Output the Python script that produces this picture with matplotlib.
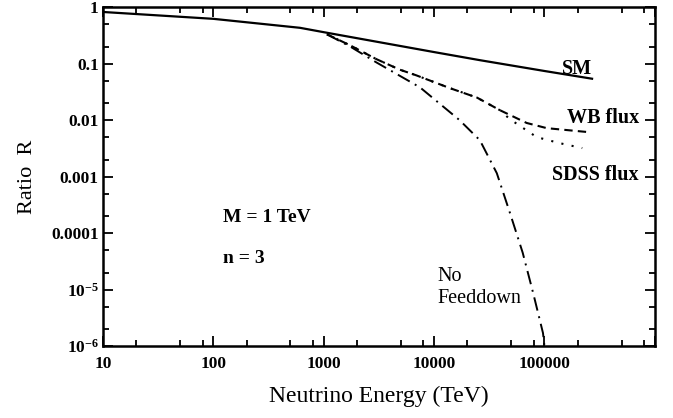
import numpy as np
import matplotlib
matplotlib.use('Agg')
import matplotlib.pyplot as plt
from matplotlib.ticker import LogLocator, FixedFormatter, FixedLocator, NullFormatter

plt.rcParams['font.family'] = 'Liberation Serif'
plt.rcParams['mathtext.fontset'] = 'custom'
plt.rcParams['mathtext.rm'] = 'Liberation Serif:bold'
plt.rcParams['mathtext.it'] = 'Liberation Serif:bold'

# values
sm_E = [10, 100, 610, 1000, 10000, 26000, 100000, 270000]
sm_R = [0.82, 0.62, 0.43, 0.36, 0.16, 0.115, 0.074, 0.054]

wb_E = [1070, 1740, 3000, 4900, 6900, 13800, 24500, 39400, 69000, 105000, 257000]
wb_R = [0.33, 0.21, 0.12, 0.078, 0.062, 0.037, 0.025, 0.015, 0.0089, 0.0072, 0.0061]

sdss_E = [1070, 1740, 3000, 4900, 6900, 13800, 24500, 39400, 48600, 85000, 138000, 220000]
sdss_R = [0.33, 0.21, 0.12, 0.078, 0.062, 0.037, 0.025, 0.015, 0.0104, 0.0050, 0.0039, 0.0032]

nofd_E = [1070, 1740, 3000, 7450, 17000, 26000, 37000, 48600, 63500, 79000, 97000, 100000]
nofd_R = [0.33, 0.20, 0.105, 0.038, 0.010, 0.0044, 0.00115, 2.3e-4, 4.5e-5, 8.7e-6, 1.7e-6, 1e-6]

xticks = [10, 100, 1000, 10000, 100000, 1000000]
xlabels = ['10', '100', '1000', '10000', '100000', '']
yticks = [1e-6, 1e-5, 1e-4, 1e-3, 1e-2, 0.1, 1]
ylabels = ['$10^{-6}$', '$10^{-5}$', '0.0001', '0.001', '0.01', '0.1', '1']

fig = plt.figure(figsize=(6.73, 4.18), dpi=100)
ax = fig.add_axes([0.153, 0.172, 0.820, 0.811])

ax.plot(sm_E, sm_R, color='black', lw=1.6, ls='-')
ax.plot(wb_E, wb_R, color='black', lw=1.5, ls=(0, (4, 2.5)))
ax.plot(sdss_E, sdss_R, color='black', lw=1.5, ls=(0, (1, 4)))
ax.plot(nofd_E, nofd_R, color='black', lw=1.4, ls=(0, (7, 3, 1, 3)))

ax.set_xscale('log')
ax.set_yscale('log')
ax.set_xlim(10, 1e6)
ax.set_ylim(1e-6, 1)

ax.xaxis.set_major_locator(FixedLocator(xticks))
ax.xaxis.set_major_formatter(FixedFormatter(xlabels))
ax.xaxis.set_minor_locator(LogLocator(base=10, subs=(2, 5, 8)))
ax.xaxis.set_minor_formatter(NullFormatter())
ax.yaxis.set_major_locator(FixedLocator(yticks))
ax.yaxis.set_major_formatter(FixedFormatter(ylabels))
ax.yaxis.set_minor_locator(LogLocator(base=10, subs=(2, 5)))
ax.yaxis.set_minor_formatter(NullFormatter())

ax.tick_params(which='both', direction='in', top=True, right=True, width=1.3)
ax.tick_params(which='major', length=7, labelsize=12.5)
ax.tick_params(axis='x', which='major', pad=7)
ax.tick_params(axis='y', which='major', pad=3)
ax.tick_params(which='minor', length=4)
for lab in ax.get_xticklabels() + ax.get_yticklabels():
    lab.set_fontweight('bold')
for sp in ax.spines.values():
    sp.set_linewidth(1.8)

ax.set_xlabel('Neutrino Energy (TeV)', fontsize=17, labelpad=10)
ax.set_ylabel('Ratio  R', fontsize=16, labelpad=10)

ax.text(1.96e5, 0.080, 'SM', fontsize=14.5, fontweight='bold', ha='center', va='center')
ax.text(7.2e5, 0.011, 'WB flux', fontsize=14.5, fontweight='bold', ha='right', va='center')
ax.text(7.2e5, 0.00107, 'SDSS flux', fontsize=14.5, fontweight='bold', ha='right', va='center')
ax.text(122, 1.9e-4, 'M = 1 TeV', fontsize=14, fontweight='bold', ha='left', va='center')
ax.text(122, 3.5e-5, 'n = 3', fontsize=14, fontweight='bold', ha='left', va='center')
ax.text(10700, 1.1e-5, 'No\nFeeddown', fontsize=14.5, ha='left', va='center', linespacing=1.25)

fig.savefig('out.png', dpi=100)
